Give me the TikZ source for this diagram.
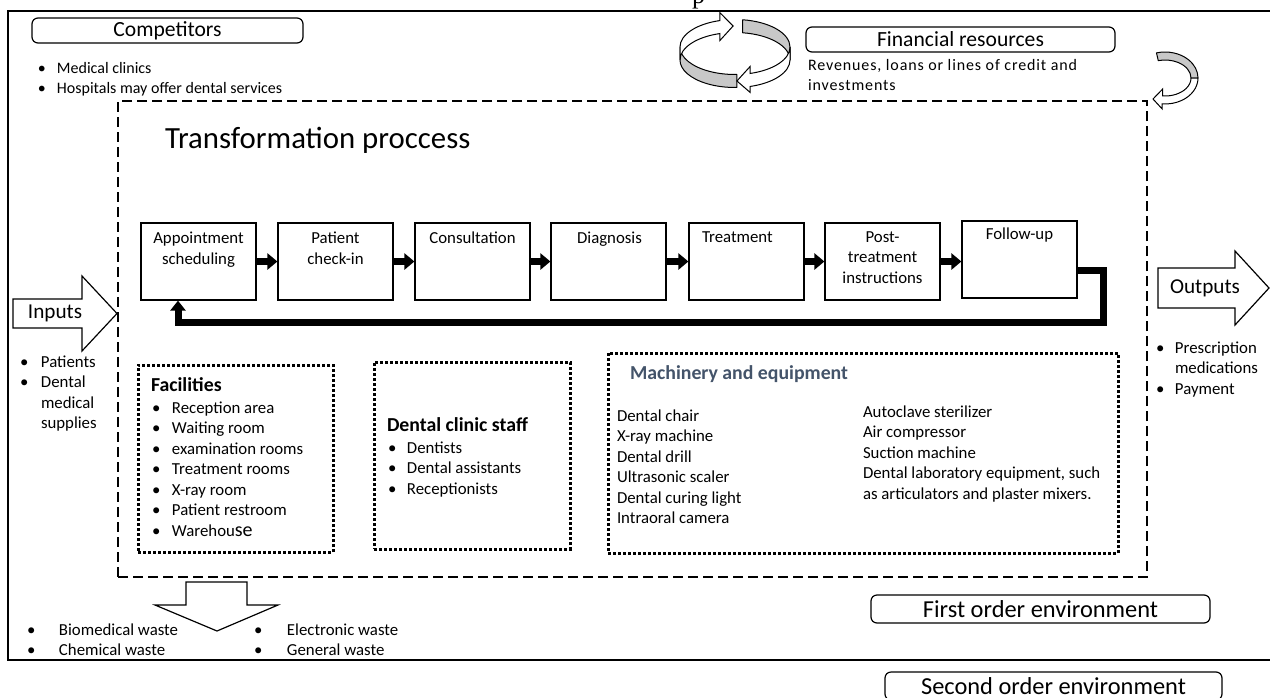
\documentclass[tikz,border=0pt]{standalone}
\usepackage{fontspec}
\setmainfont{Carlito}
\newfontfamily\serifp{Liberation Serif}
\newfontfamily\spacedfont[LetterSpace=5.5]{Carlito}
\usetikzlibrary{arrows.meta,calc}
\newcommand{\fbody}{\fontsize{8.4}{10.25}\selectfont}
\newcommand{\fsmall}{\fontsize{8}{10.25}\selectfont}
\newcommand{\ftitle}{\fontsize{10.8}{13}\selectfont}
\newcommand{\fio}{\fontsize{10.6}{13}\selectfont}
\newcommand{\fhead}{\fontsize{9.9}{12}\selectfont\bfseries}
\newcommand{\fbig}{\fontsize{15.4}{18}\selectfont}
\newcommand{\fenv}{\fontsize{12.2}{15}\selectfont}
\newcommand{\blist}[2]{\begin{tabular}[t]{@{}p{#1}@{}l@{}}#2\end{tabular}}
\newcommand{\clist}[1]{\begin{tabular}[t]{@{}l@{}}#1\end{tabular}}
\newcommand{\ctab}[1]{\begin{tabular}[t]{@{}c@{}}#1\end{tabular}}
\definecolor{ribbongray}{RGB}{200,200,200}
\definecolor{headblue}{RGB}{68,84,106}
\begin{document}
\begin{tikzpicture}[x=0.5pt,y=-0.5pt,
  txt/.style={inner sep=0pt, outer sep=0pt, anchor=base west, font=\fbody},
  boxtxt/.style={inner sep=0pt, outer sep=0pt, anchor=base, font=\fbody},
  frame/.style={line width=0.75pt},
  rbox/.style={draw, rounded corners=3pt, line width=0.6pt, inner sep=0pt},
  dashbox/.style={draw, dash pattern=on 5pt off 2.5pt, line width=0.7pt, inner sep=0pt},
  dotbox/.style={draw, dash pattern=on 1.5pt off 1pt, line width=1.5pt, inner sep=0pt},
  procbox/.style={draw, line width=0.6pt, minimum width=57.5pt, minimum height=38.5pt, inner sep=0pt},
  flow/.style={line width=3.2pt, -{Triangle[width=8pt,length=5pt]}},
  fbline/.style={line width=3.5pt, line join=miter, -{Triangle[width=7.5pt,length=5pt]}},
  blockarrow/.style={draw, fill=white, line width=0.6pt, line join=miter},
  ribgray/.style={fill=ribbongray, draw, line width=0.5pt, line join=round},
  ribwhite/.style={fill=white, draw, line width=0.5pt, line join=miter}
]
\useasboundingbox (0,0) rectangle (1270,697);
\clip (0,0) rectangle (1270,697);
\fill[white] (0,0) rectangle (1270,697);

% cut text at top
\node[anchor=base, inner sep=0pt, font=\serifp\fontsize{13}{15}\selectfont] (ptop) at (698.5,3) {p};

% outer frame
\draw[frame] (1290,11) -- (8,11) -- (8,660) -- (1290,660);

% competitors
\node[rbox, minimum width=135.5pt, minimum height=12.5pt, font=\ftitle] (comp) at (167.5,30.5) {Competitors};
\node[txt, font=\fsmall] (compl) at (38,73) {\blist{9.5pt}{•&Medical clinics\\•&Hospitals may offer dental services}};

% financial resources
\node[rbox, minimum width=154.5pt, minimum height=12.5pt, font=\ftitle] (fin) at (960.5,39.5) {Financial resources};
\node[txt, font=\spacedfont\fsmall] (finl) at (808,70) {\clist{Revenues, loans or lines of credit and\\investments}};

% transformation process frame
\node[dashbox, minimum width=514.5pt, minimum height=238pt] (trans) at (632.5,339) {};
\node[txt, font=\fbig] (title) at (165,148) {Transformation proccess};

% process boxes
\foreach \i/\x in {1/198.5,2/335.5,3/472.5,4/608.5,5/746.5,6/882.5}
  \node[procbox] (b\i) at (\x,261.5) {};
\node[procbox] (b7) at (1019.5,259.5) {};

\node[boxtxt] (t1) at (198.5,243.5) {\ctab{Appointment\\scheduling}};
\node[boxtxt] (t2) at (335.5,243.5) {\ctab{Patient\\check-in}};
\node[boxtxt] (t3) at (472.5,243) {Consultation};
\node[boxtxt] (t4) at (609.5,243) {Diagnosis};
\node[txt] (t5) at (702,242) {Treatment};
\node[boxtxt] (t6) at (882.5,242) {\ctab{Post-\\treatment\\instructions}};
\node[boxtxt] (t7) at (1019.5,239) {Follow-up};

\foreach \i/\j in {1/2,2/3,3/4,4/5,5/6,6/7}
  \draw[flow] (b\i.east) -- (b\i.east -| b\j.west);

% feedback loop
\coordinate (fbA) at (1103,270);
\coordinate (fbB) at (1103,322);
\coordinate (fbC) at (178,322);
\draw[fbline] (b7.east |- fbA) -- (fbA) -- (fbB) -- (fbC) -- (fbC |- b1.south);

% inputs
\draw[blockarrow] (13,299) -- (82,299) -- (82,276) -- (117,313.5) -- (82,351) -- (82,328) -- (13,328) -- cycle;
\node[font=\fio, inner sep=0pt] (inp) at (55,313) {Inputs};
\node[txt] (inpl) at (20,367) {\blist{10.5pt}{•&Patients\\•&Dental\\&medical\\&supplies}};

% outputs
\draw[blockarrow] (1158,268) -- (1235,268) -- (1235,251) -- (1269,288) -- (1235,325) -- (1235,308) -- (1158,308) -- cycle;
\node[font=\fio, inner sep=0pt] (outp) at (1205,288) {Outputs};
\node[txt] (outl) at (1156,353) {\blist{9.5pt}{•&Prescription\\&medications\\•&Payment}};

% facilities
\node[dotbox, minimum width=97.5pt, minimum height=93.5pt] (fac) at (235.5,458.5) {};
\node[txt, font=\fhead] (fach) at (151,391) {Facilities};
\node[txt] (facl) at (152,413) {\blist{10pt}{•&Reception area\\•&Waiting room\\•&examination rooms\\•&Treatment rooms\\•&X-ray room\\•&Patient restroom\\•&Warehou{\fontsize{10}{10.25}\selectfont se}}};

% staff
\node[dotbox, minimum width=98pt, minimum height=93.5pt] (stf) at (472,455.5) {};
\node[txt, font=\fhead] (stfh) at (387,431) {Dental clinic staff};
\node[txt] (stfl) at (388,453) {\blist{9.5pt}{•&Dentists\\•&Dental assistants\\•&Receptionists}};

% machinery
\node[dotbox, minimum width=255pt, minimum height=100pt] (mac) at (863,453) {};
\node[txt, font=\fhead, text=headblue] (mach) at (630,379) {Machinery and equipment};
\node[txt] (macl) at (617,421) {\clist{Dental chair\\X-ray machine\\Dental drill\\Ultrasonic scaler\\Dental curing light\\Intraoral camera}};
\node[txt] (macr) at (863,417) {\clist{Autoclave sterilizer\\Air compressor\\Suction machine\\Dental laboratory equipment, such\\as articulators and plaster mixers.}};

% waste
\draw[blockarrow] (186,582) -- (247,582) -- (247,605) -- (278,605) -- (217,631) -- (155,605) -- (186,605) -- cycle;
\node[txt] (wl) at (27,635) {\blist{16pt}{•&Biomedical waste\\•&Chemical waste}};
\node[txt] (wr) at (254,635) {\blist{16.5pt}{•&Electronic waste\\•&General waste}};

% environments
\node[rbox, minimum width=169.5pt, minimum height=14pt, font=\fenv] (env1) at (1040.5,609) {First order environment};
\node[rbox, minimum width=168.5pt, minimum height=14pt, font=\fenv] (env2) at (1053.5,686) {Second order environment};

% circular arrows
\coordinate (rt) at (735,47);
\coordinate (rb) at (735,60);
\coordinate (rm) at (735,53.5);
\filldraw[ribgray] ($(rt)+(88:55 and 27.5)$) arc[start angle=88,end angle=180,x radius=55,y radius=27.5] -- ($(rb)+(180:55 and 27.5)$) arc[start angle=180,end angle=88,x radius=55,y radius=27.5] -- cycle;
\filldraw[ribwhite] ($(rb)+(180:55 and 27.5)$) -- ($(rt)+(180:55 and 27.5)$) arc[start angle=180,end angle=254,x radius=55,y radius=27.5] -- ++(0,-8) -- ($(rm)+(268:55 and 27.5)$) -- ($(rb)+(254:55 and 27.5)+(0,7)$) -- ($(rb)+(254:55 and 27.5)$) arc[start angle=254,end angle=180,x radius=55,y radius=27.5] -- cycle;
\filldraw[ribgray] ($(rt)+(278:55 and 27.5)$) arc[start angle=278,end angle=360,x radius=55,y radius=27.5] -- ($(rb)+(0:55 and 27.5)$) arc[start angle=360,end angle=278,x radius=55,y radius=27.5] -- cycle;
\filldraw[ribwhite] ($(rb)+(0:55 and 27.5)$) -- ($(rt)+(0:55 and 27.5)$) arc[start angle=0,end angle=74,x radius=55,y radius=27.5] -- ++(0,-7) -- ($(rm)+(88:55 and 27.5)$) -- ($(rb)+(74:55 and 27.5)+(0,6)$) -- ($(rb)+(74:55 and 27.5)$) arc[start angle=74,end angle=0,x radius=55,y radius=27.5] -- cycle;

% small curved arrow
\coordinate (sc) at (1165,78);
\filldraw[ribgray] ($(sc)+(-105:33 and 26)$) arc[start angle=-105,end angle=0,x radius=33,y radius=26] -- ($(sc)+(0:26 and 18)$) arc[start angle=0,end angle=-105,x radius=26,y radius=18] -- cycle;
\filldraw[ribwhite] ($(sc)+(0:33 and 26)$) arc[start angle=0,end angle=95,x radius=33,y radius=26] -- ++(0,5) -- (1153,99) -- ($(sc)+(95:26 and 18)+(0,-7)$) -- ($(sc)+(95:26 and 18)$) arc[start angle=95,end angle=0,x radius=26,y radius=18] -- cycle;
\end{tikzpicture}
\end{document}
